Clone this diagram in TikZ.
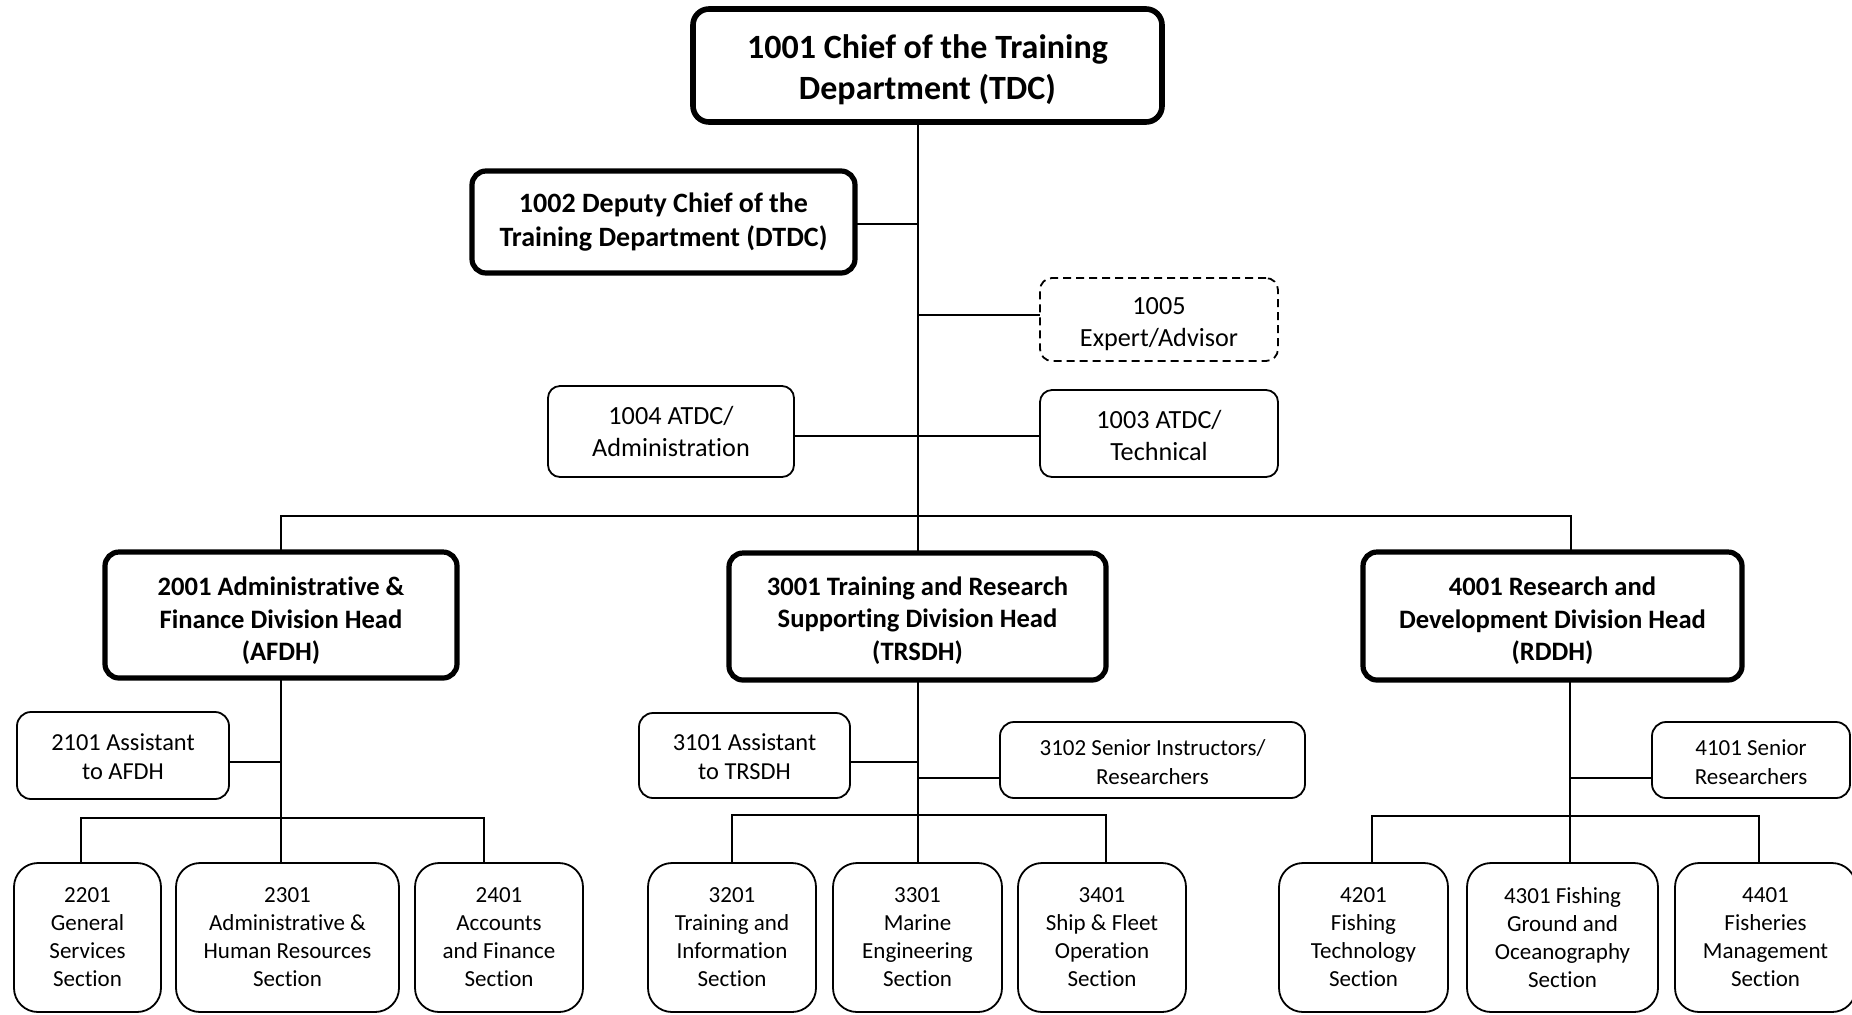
\documentclass[tikz,border=0pt]{standalone}
\usepackage{fontspec}
\setmainfont{Carlito}[Ligatures={NoCommon,NoContextual}]

% Box placed by its corners (x1,y1)-(x2,y2) in pixel units; the text is
% set as its own node, lowered by #8 pixels from the box centre.
\newcommand\orgunit[8]{%
  \pgfmathsetmacro\ocx{(#3+#5)/2}%
  \pgfmathsetmacro\ocy{(#4+#6)/2}%
  \pgfmathsetmacro\ow{(#5-#3)/2}%
  \pgfmathsetmacro\oh{(#6-#4)/2}%
  \node[#1, minimum width=\ow pt, minimum height=\oh pt] (#2) at (\ocx,\ocy) {};%
  \node[#1, draw=none, fill=none, minimum width=0pt, minimum height=0pt]
    (#2-label) at (\ocx,\ocy+#8) {#7};%
}

\tikzset{
  unitbase/.style={draw=black, fill=white, align=center, inner sep=0pt, outer sep=0pt},
  chief/.style={unitbase, line width=2.8pt, rounded corners=8pt,
    font=\bfseries\fontsize{17pt}{20.5pt}\selectfont},
  deputy/.style={unitbase, line width=2.6pt, rounded corners=7pt,
    font=\bfseries\fontsize{14pt}{16.6pt}\selectfont},
  head/.style={unitbase, line width=2.6pt, rounded corners=7pt,
    font=\bfseries\fontsize{13.3pt}{16.2pt}\selectfont},
  staff/.style={unitbase, line width=0.9pt, rounded corners=6pt,
    font=\fontsize{13.1pt}{16pt}\selectfont},
  advisor/.style={staff, dash pattern=on 4pt off 2.5pt},
  aide/.style={unitbase, line width=0.9pt, rounded corners=7pt,
    font=\fontsize{12.2pt}{14.8pt}\selectfont},
  aidesmall/.style={aide, font=\fontsize{11.5pt}{14.2pt}\selectfont},
  section/.style={unitbase, line width=0.9pt, rounded corners=12pt,
    font=\fontsize{11.5pt}{14pt}\selectfont},
  link/.style={draw=black, line width=1pt}
}

\begin{document}
\begin{tikzpicture}[x=0.5pt, y=-0.5pt]
\clip (0,0) rectangle (1852,1014);
\fill[white] (0,0) rectangle (1852,1014);

% connection points that sit off the box centres
\coordinate (depPt) at (917,224);
\coordinate (advpt) at (917,315);
\coordinate (atdcPt) at (917,436);
\coordinate (busL) at (281,516);
\coordinate (busR) at (1571,516);
\coordinate (rdTop) at (1571,552);
\coordinate (rdBot) at (1570,681);
\coordinate (as2Pt) at (281,762);
\coordinate (s2L) at (81,818);
\coordinate (s2R) at (484,818);
\coordinate (as3Pt) at (917,762);
\coordinate (siPt) at (917,778);
\coordinate (s3L) at (732,815);
\coordinate (s3R) at (1106,815);
\coordinate (srPt) at (1570,778);
\coordinate (s4L) at (1372,816);
\coordinate (s4R) at (1759,816);

% ---- top level ----
\orgunit{chief}{n1001}{693}{9}{1162}{122}{1001 Chief of the Training\\Department (TDC)}{4}
\orgunit{deputy}{n1002}{472}{171}{855}{273}{1002 Deputy Chief of the\\Training Department (DTDC)}{0}
\orgunit{advisor}{n1005}{1040}{278}{1278}{361}{1005\\Expert/Advisor}{5}
\orgunit{staff}{n1004}{548}{386}{794}{477}{1004 ATDC/\\Administration}{0}
\orgunit{staff}{n1003}{1040}{390}{1278}{477}{1003 ATDC/\\Technical}{2}

% ---- division heads ----
\orgunit{head}{n2001}{105}{552}{457}{678}{2001 Administrative \&\\Finance Division Head\\(AFDH)}{6}
\orgunit{head}{n3001}{729}{553}{1106}{680}{3001 Training and Research\\Supporting Division Head\\(TRSDH)}{4}
\orgunit{head}{n4001}{1363}{552}{1742}{680}{4001 Research and\\Development Division Head\\(RDDH)}{5}

% ---- assistants and senior staff ----
\orgunit{aide}{n2101}{17}{712}{229}{799}{2101 Assistant\\to AFDH}{1}
\orgunit{aide}{n3101}{639}{713}{850}{798}{3101 Assistant\\to TRSDH}{1}
\orgunit{aidesmall}{n3102}{1000}{722}{1305}{798}{3102 Senior Instructors/\\Researchers}{2}
\orgunit{aidesmall}{n4101}{1652}{722}{1850}{798}{4101 Senior\\Researchers}{2}

% ---- sections ----
\orgunit{section}{n2201}{14}{863}{161}{1012}{2201\\General\\Services\\Section}{0}
\orgunit{section}{n2301}{176}{863}{399}{1012}{2301\\Administrative \&\\Human Resources\\Section}{0}
\orgunit{section}{n2401}{415}{863}{583}{1012}{2401\\Accounts\\and Finance\\Section}{0}
\orgunit{section}{n3201}{648}{863}{816}{1012}{3201\\Training and\\Information\\Section}{0}
\orgunit{section}{n3301}{833}{863}{1002}{1012}{3301\\Marine\\Engineering\\Section}{0}
\orgunit{section}{n3401}{1018}{863}{1186}{1012}{3401\\Ship \& Fleet\\Operation\\Section}{0}
\orgunit{section}{n4201}{1279}{863}{1448}{1012}{4201\\Fishing\\Technology\\Section}{0}
\orgunit{section}{n4301}{1467}{863}{1658}{1012}{4301 Fishing\\Ground and\\Oceanography\\Section}{0}
\orgunit{section}{n4401}{1675}{863}{1856}{1012}{4401\\Fisheries\\Management\\Section}{0}

% ---- connectors ----
% main trunk and staff branches
\draw[link] (n1001.south -| n3001.north) -- (n3001.north);
\draw[link] (depPt -| n1002.east) -- (depPt);
\draw[link] (advpt) -- (advpt -| n1005.west);
\draw[link] (atdcPt -| n1004.east) -- (atdcPt -| n1003.west);
\draw[link] (n2001.north) -- (busL) -- (busR) -- (rdTop);

% administrative & finance division
\draw[link] (n2001.south) -- (n2001.south |- n2301.north);
\draw[link] (as2Pt -| n2101.east) -- (as2Pt);
\draw[link] (n2201.north -| s2L) -- (s2L) -- (s2R) -- (n2401.north -| s2R);

% training and research supporting division
\draw[link] (n3001.south) -- (n3301.north);
\draw[link] (as3Pt -| n3101.east) -- (as3Pt);
\draw[link] (siPt) -- (siPt -| n3102.west);
\draw[link] (n3201.north -| s3L) -- (s3L) -- (s3R) -- (n3401.north -| s3R);

% research and development division
\draw[link] (rdBot) -- (rdBot |- n4301.north);
\draw[link] (srPt) -- (srPt -| n4101.west);
\draw[link] (n4201.north -| s4L) -- (s4L) -- (s4R) -- (n4401.north -| s4R);
\end{tikzpicture}
\end{document}
